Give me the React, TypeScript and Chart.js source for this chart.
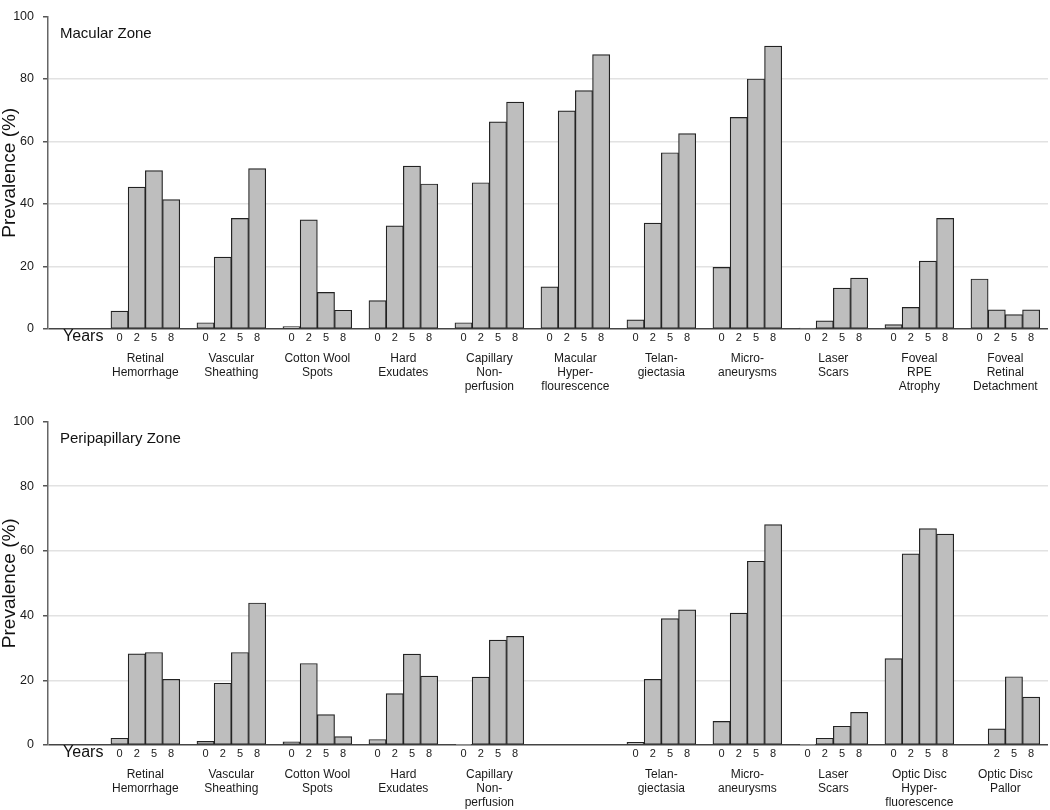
import React, { useEffect, useRef } from "react";
import { Chart, registerables } from "chart.js";

Chart.register(...registerables);

const FONT = '"Liberation Sans", Arial, Helvetica, sans-serif';

// ---- data ----
const YEARS = ["0", "2", "5", "8"];
const Y_TICKS = [0, 20, 40, 60, 80, 100];

const macularCategories = [
  "Retinal\nHemorrhage",
  "Vascular\nSheathing",
  "Cotton Wool\nSpots",
  "Hard\nExudates",
  "Capillary\nNon-\nperfusion",
  "Macular\nHyper-\nflourescence",
  "Telan-\ngiectasia",
  "Micro-\naneurysms",
  "Laser\nScars",
  "Foveal\nRPE\nAtrophy",
  "Foveal\nRetinal\nDetachment",
];
const macularYear0 = [5.7, 2.0, 0.8, 9.1, 2.0, 13.5, 2.9, 19.7, 0.3, 1.4, 16.0];
const macularYear2 = [45.4, 23.0, 34.9, 33.0, 46.8, 69.8, 33.9, 67.7, 2.6, 6.9, 6.1];
const macularYear5 = [50.7, 35.4, 11.7, 52.1, 66.3, 76.3, 56.4, 80.0, 13.1, 21.7, 4.6];
const macularYear8 = [41.4, 51.3, 6.0, 46.4, 72.6, 87.8, 62.5, 90.5, 16.3, 35.4, 6.1];

const peripapillaryCategories = [
  "Retinal\nHemorrhage",
  "Vascular\nSheathing",
  "Cotton Wool\nSpots",
  "Hard\nExudates",
  "Capillary\nNon-\nperfusion",
  "",
  "Telan-\ngiectasia",
  "Micro-\naneurysms",
  "Laser\nScars",
  "Optic Disc\nHyper-\nfluorescence",
  "Optic Disc\nPallor",
];
const periYear0 = [2.1, 1.1, 1.0, 1.7, 0.2, null, 0.8, 7.3, 0.2, 26.7, null];
const periYear2 = [28.2, 19.1, 25.2, 15.9, 21.0, null, 20.3, 40.8, 2.1, 59.1, 5.0];
const periYear5 = [28.6, 28.6, 9.4, 28.1, 32.4, null, 39.1, 56.8, 5.8, 66.9, 21.1];
const periYear8 = [20.3, 43.9, 2.6, 21.3, 33.6, null, 41.8, 68.1, 10.1, 65.2, 14.8];

// ---- layout ----
const GROUP_STRIDE = 5; // 4 bars + 1 gap slot
const X_MIN = -4.16;
const X_MAX = 53.98;
const YEARS_LABEL_POS = -2.11;

type ZoneCfg = {
  title: string;
  categories: string[];
  series: (number | null)[][];
  padTop: number;
  axisHeight: number;
};

function buildChart(canvas: HTMLCanvasElement, cfg: ZoneCfg) {
  const datasets = cfg.series.map((vals, j) => ({
    label: YEARS[j],
    data: vals
      .map((v, g) => (v == null ? null : { x: g * GROUP_STRIDE + j, y: v }))
      .filter((p) => p !== null) as { x: number; y: number }[],
    backgroundColor: "#bebebe",
    borderColor: "#222222",
    borderWidth: 1.2,
    borderSkipped: false as const,
    barPercentage: 1,
    categoryPercentage: 1,
    grouped: false,
  }));

  const tickLabel = new Map<number, string>();
  cfg.series.forEach((vals, j) =>
    vals.forEach((v, g) => {
      if (v != null) tickLabel.set(g * GROUP_STRIDE + j, YEARS[j]);
    })
  );
  const tickValues = Array.from(tickLabel.keys()).sort((a, b) => a - b);

  const labelsPlugin = {
    id: "zoneLabels",
    afterDraw(chart: any) {
      const { ctx, chartArea } = chart;
      const x = chart.scales.x;
      ctx.save();
      ctx.fillStyle = "#111";
      ctx.textBaseline = "alphabetic";
      ctx.font = `15px ${FONT}`;
      ctx.textAlign = "left";
      ctx.fillText(cfg.title, chartArea.left + 12, chartArea.top + 21);
      ctx.textAlign = "center";
      ctx.font = `16px ${FONT}`;
      ctx.fillText("Years", x.getPixelForValue(YEARS_LABEL_POS), chartArea.bottom + 12);
      ctx.font = `12px ${FONT}`;
      ctx.fillStyle = "#1a1a1a";
      cfg.categories.forEach((c, g) => {
        if (!c) return;
        const cx = x.getPixelForValue(g * GROUP_STRIDE + 1.5);
        c.split("\n").forEach((ln, i) => {
          ctx.fillText(ln, cx, chartArea.bottom + 33 + i * 14);
        });
      });
      ctx.restore();
    },
  };

  return new Chart(canvas, {
    type: "bar",
    data: { datasets },
    plugins: [labelsPlugin],
    options: {
      responsive: false,
      animation: false,
      layout: { padding: { top: cfg.padTop, right: 2, left: 0, bottom: 0 } },
      plugins: { legend: { display: false }, tooltip: { enabled: false } },
      scales: {
        x: {
          type: "linear",
          min: X_MIN,
          max: X_MAX,
          offset: false,
          afterBuildTicks: (s: any) => {
            s.ticks = tickValues.map((v) => ({ value: v }));
          },
          afterFit: (s: any) => {
            s.height = cfg.axisHeight;
          },
          ticks: {
            autoSkip: false,
            maxRotation: 0,
            minRotation: 0,
            padding: 2,
            color: "#1a1a1a",
            font: { size: 11, family: FONT },
            callback: (v: any) => tickLabel.get(Number(v)) ?? "",
          },
          grid: { display: false, drawTicks: false },
          border: { display: false },
        },
        y: {
          type: "linear",
          min: 0,
          max: 100,
          afterBuildTicks: (s: any) => {
            s.ticks = Y_TICKS.map((v) => ({ value: v }));
          },
          afterFit: (s: any) => {
            s.width = 48;
          },
          ticks: {
            padding: 9,
            color: "#1a1a1a",
            font: { size: 12.5, family: FONT },
          },
          grid: {
            color: (c: any) =>
              c.tick.value === 0 ? "#444444" : c.tick.value === 100 ? "rgba(0,0,0,0)" : "#e2e2e2",
            lineWidth: 1.5,
            drawTicks: true,
            tickLength: 5,
            tickColor: "#555555",
          },
          border: { display: true, color: "#666666", width: 1.5 },
          title: {
            display: true,
            text: "Prevalence (%)",
            color: "#111",
            padding: 0,
            font: { size: 19, family: FONT, lineHeight: 1 },
          },
        },
      },
    } as any,
  });
}

export default function App() {
  const topRef = useRef<HTMLCanvasElement>(null);
  const botRef = useRef<HTMLCanvasElement>(null);

  useEffect(() => {
    Chart.defaults.font.family = FONT;
    const c1 = buildChart(topRef.current!, {
      title: "Macular Zone",
      categories: macularCategories,
      series: [macularYear0, macularYear2, macularYear5, macularYear8],
      padTop: 7,
      axisHeight: 76,
    });
    const c2 = buildChart(botRef.current!, {
      title: "Peripapillary Zone",
      categories: peripapillaryCategories,
      series: [periYear0, periYear2, periYear5, periYear8],
      padTop: 16,
      axisHeight: 65,
    });
    return () => {
      c1.destroy();
      c2.destroy();
    };
  }, []);

  return (
    <div style={{ position: "absolute", left: 0, top: 0, width: 1050, height: 810, background: "#fff" }}>
      <canvas ref={topRef} width={1050} height={405} style={{ position: "absolute", left: 0, top: 0, display: "block" }} />
      <canvas ref={botRef} width={1050} height={405} style={{ position: "absolute", left: 0, top: 405, display: "block" }} />
    </div>
  );
}
